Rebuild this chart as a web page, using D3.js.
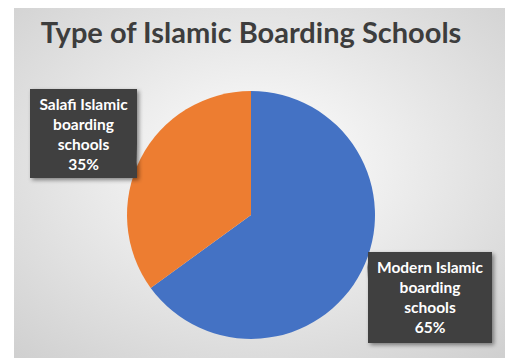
<!DOCTYPE html>
<html>
<head>
<meta charset="utf-8">
<script src="https://cdn.jsdelivr.net/npm/d3@7"></script>
<style>
  body { margin: 0; background: #fff; }
  svg { display: block; }
</style>
</head>
<body>
<svg id="chart"></svg>
<script>
// chart data
const categories = ["Modern Islamic boarding schools", "Salafi Islamic boarding schools"];
const labelLines = [["Modern Islamic", "boarding", "schools"], ["Salafi Islamic", "boarding", "schools"]];
const shares = [65, 35];
const colors = ["#4472C4", "#ED7D31"];

const width = 505, height = 358;
const cx = 251, cy = 215, radius = 124;

const svg = d3.select("#chart")
  .attr("width", width)
  .attr("height", height);

// background gradient (white centre, grey edges)
const defs = svg.append("defs");
const grad = defs.append("radialGradient")
  .attr("id", "bg")
  .attr("cx", "50%").attr("cy", "45%").attr("r", "75%");
grad.append("stop").attr("offset", "0%").attr("stop-color", "#ffffff");
grad.append("stop").attr("offset", "100%").attr("stop-color", "#cfcfcf");

const shadow = defs.append("filter").attr("id", "shadow")
  .attr("x", "-20%").attr("y", "-20%").attr("width", "140%").attr("height", "140%");
shadow.append("feDropShadow")
  .attr("dx", 2).attr("dy", 2).attr("stdDeviation", 2)
  .attr("flood-color", "#000").attr("flood-opacity", 0.45);

svg.append("rect")
  .attr("x", 14).attr("y", 8)
  .attr("width", width - 14).attr("height", height - 8)
  .attr("fill", "url(#bg)");

// title
svg.append("text")
  .attr("x", 251)
  .attr("y", 43)
  .attr("text-anchor", "middle")
  .attr("font-family", "Lato, 'Open Sans', sans-serif")
  .attr("font-weight", "bold")
  .attr("font-size", 29)
  .attr("fill", "#3d3d3d")
  .text("Type of Islamic Boarding Schools");

// pie
const pie = d3.pie().sort(null).value(d => d);
const arcs = pie(shares);
const arc = d3.arc().innerRadius(0).outerRadius(radius);

const g = svg.append("g").attr("transform", `translate(${cx},${cy})`);
g.selectAll("path.slice")
  .data(arcs)
  .enter()
  .append("path")
  .attr("class", "slice")
  .attr("d", arc)
  .attr("fill", (d, i) => colors[i]);

// callout boxes: box rect + pointer side
const boxes = [
  { x: 368, y: 252, w: 124, h: 91, side: "left", py: 262 },
  { x: 30, y: 89, w: 107, h: 89, side: "right", py: 144 }
];

arcs.forEach((d, i) => {
  const b = boxes[i];
  const edge = d3.arc().innerRadius(radius).outerRadius(radius).centroid(d);
  const tx = cx + edge[0], ty = cy + edge[1];
  let path;
  if (b.side === "left") {
    path = `M${b.x},${b.y} H${b.x + b.w} V${b.y + b.h} H${b.x} V${b.py + 18} L${tx + 6},${ty - 4} L${b.x},${b.py} Z`;
  } else {
    path = `M${b.x},${b.y} H${b.x + b.w} V${b.py} L${tx - 4},${ty + 8} L${b.x + b.w},${b.py + 18} V${b.y + b.h} H${b.x} Z`;
  }
  svg.append("path")
    .attr("d", path)
    .attr("fill", "#404040")
    .attr("filter", "url(#shadow)");

  const lines = labelLines[i].concat([shares[i] + "%"]);
  const t = svg.append("text")
    .attr("text-anchor", "middle")
    .attr("font-family", "Lato, 'Open Sans', sans-serif")
    .attr("font-weight", "bold")
    .attr("font-size", 15.5)
    .attr("fill", "#ffffff");
  lines.forEach((ln, k) => {
    t.append("tspan")
      .attr("x", b.x + b.w / 2)
      .attr("y", b.y + 21 + k * 20)
      .text(ln);
  });
});
</script>
</body>
</html>
